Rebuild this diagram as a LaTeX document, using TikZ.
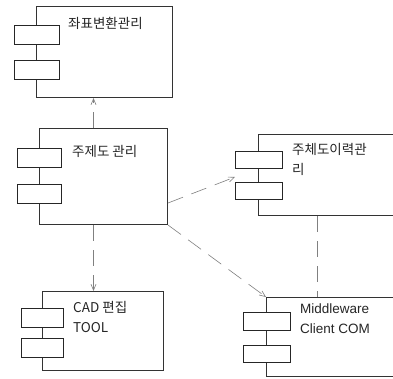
\documentclass[tikz,border=0pt]{standalone}
\usepackage{fontspec}
\setmainfont{Liberation Sans}
\newfontfamily\kr{Noto Sans CJK KR}
\usetikzlibrary{arrows.meta,calc}
\begin{document}
\begin{tikzpicture}[x=1pt,y=-1pt,
  comp/.style={draw=black!80, line width=1pt, fill=white, anchor=north west, inner sep=0pt},
  port/.style={draw=black!85, line width=1pt, fill=white, anchor=north west, inner sep=0pt},
  lbl/.style={anchor=north west, align=left, inner sep=0pt, font=\fontsize{13.5}{20}\selectfont\kr, text=black!85},
  dep/.style={draw=black!50, line width=0.6pt, dash pattern=on 16pt off 9pt, -{Straight Barb[length=6pt,width=5pt]}},
  depn/.style={draw=black!50, line width=0.6pt, dash pattern=on 16pt off 9pt}]
\useasboundingbox (0,0) rectangle (393,378);
\fill[white] (0,0) rectangle (393,378);
\begin{scope}
\clip (0,0) rectangle (393,378);
% C1
\node[comp, minimum width=136pt, minimum height=91pt] (c1) at (36,6) {};
\node[port, minimum width=45pt, minimum height=19pt] (c1a) at (14,25) {};
\node[port, minimum width=45pt, minimum height=19pt] (c1b) at (14,60) {};
\node[lbl] (t1) at (68,17) {좌표변환관리};
% C2
\node[comp, minimum width=128pt, minimum height=96pt] (c2) at (39,128) {};
\node[port, minimum width=44pt, minimum height=19pt] (c2a) at (17,148) {};
\node[port, minimum width=44pt, minimum height=19pt] (c2b) at (17,184) {};
\node[lbl] (t2) at (72,145) {주제도 관리};
% C3
\node[comp, minimum width=121pt, minimum height=79pt] (c3) at (42,291) {};
\node[port, minimum width=42pt, minimum height=19pt] (c3a) at (21,308) {};
\node[port, minimum width=42pt, minimum height=19pt] (c3b) at (21,338) {};
\node[lbl] (t3) at (73,301) {CAD 편집\\TOOL};
% C4
\node[comp, minimum width=142pt, minimum height=81pt] (c4) at (258,134) {};
\node[port, minimum width=47pt, minimum height=17pt] (c4a) at (235,151) {};
\node[port, minimum width=47pt, minimum height=17pt] (c4b) at (235,182) {};
\node[lbl] (t4) at (292,143) {주체도이력관\\리};
% C5
\node[comp, minimum width=134pt, minimum height=79pt] (c5) at (266,297) {};
\node[port, minimum width=47pt, minimum height=18pt] (c5a) at (243,312) {};
\node[port, minimum width=47pt, minimum height=17pt] (c5b) at (243,345) {};
\node[lbl, font=\fontsize{13.5}{20}\selectfont] (t5) at (300,304) {Middleware\\Client COM};
\end{scope}
% connectors
\draw[dep] ([xshift=-10pt]c2.north) -- ([xshift=-10pt]c2.north |- c1.south);
\draw[dep] ([xshift=-10pt]c2.south) -- ([xshift=-10pt]c2.south |- c3.north);
\draw[dep] (c2.south east) -- (c5.north west);
\draw[dep] ([yshift=22pt]c2.south east) -- ([yshift=-8pt]c4a.south west);
\coordinate (d4) at ([xshift=59pt]c4.south west);
\draw[depn] (d4) -- (d4 |- c5.north);
\end{tikzpicture}
\end{document}
